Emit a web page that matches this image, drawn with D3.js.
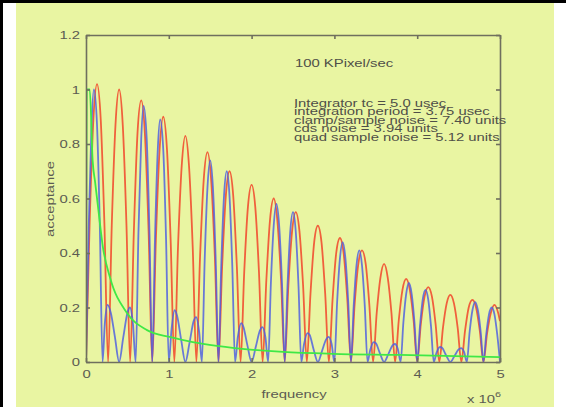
<!DOCTYPE html>
<html>
<head>
<meta charset="utf-8">
<script src="https://cdn.jsdelivr.net/npm/d3@7"></script>
<style>
  body { margin: 0; background: #fff; }
  svg { display: block; }
  text { font-family: "Liberation Sans", Arial, sans-serif; }
</style>
</head>
<body>
<div id="chart"></div>
<script>
// tick values
const xTicks = [0, 1, 2, 3, 4, 5];
const yTicks = [0, 0.2, 0.4, 0.6, 0.8, 1, 1.2];

// annotation text
const title = "100 KPixel/sec";
const notes = [
  "Integrator tc = 5.0 usec",
  "integration period = 3.75 usec",
  "clamp/sample noise = 7.40 units",
  "cds noise = 3.94 units",
  "quad sample noise = 5.12 units"
];

// clamp/sample acceptance (red), [frequency x1e6, acceptance]
const clampSample = [
  [0, 0], [0.044, 0.51], [0.089, 0.89], [0.133, 1.02], [0.178, 0.89], [0.222, 0.51],
  [0.267, 0], [0.311, 0.5], [0.356, 0.87], [0.4, 1.0], [0.444, 0.87], [0.489, 0.5],
  [0.533, 0], [0.578, 0.48], [0.622, 0.84], [0.667, 0.96], [0.711, 0.84], [0.756, 0.48],
  [0.8, 0], [0.844, 0.45], [0.889, 0.78], [0.933, 0.9], [0.978, 0.78], [1.022, 0.45],
  [1.067, 0], [1.111, 0.42], [1.156, 0.72], [1.2, 0.83], [1.244, 0.72], [1.289, 0.42],
  [1.333, 0], [1.378, 0.39], [1.422, 0.67], [1.467, 0.77], [1.511, 0.67], [1.556, 0.39],
  [1.6, 0], [1.644, 0.35], [1.689, 0.61], [1.733, 0.7], [1.778, 0.61], [1.822, 0.35],
  [1.867, 0], [1.911, 0.33], [1.956, 0.57], [2.0, 0.65], [2.044, 0.57], [2.089, 0.33],
  [2.133, 0], [2.178, 0.3], [2.222, 0.52], [2.267, 0.6], [2.311, 0.52], [2.356, 0.3],
  [2.4, 0], [2.444, 0.28], [2.489, 0.48], [2.533, 0.55], [2.578, 0.48], [2.622, 0.28],
  [2.667, 0], [2.711, 0.25], [2.756, 0.44], [2.8, 0.5], [2.844, 0.44], [2.889, 0.25],
  [2.933, 0], [2.978, 0.23], [3.022, 0.4], [3.067, 0.455], [3.111, 0.4], [3.156, 0.23],
  [3.2, 0], [3.244, 0.21], [3.289, 0.36], [3.333, 0.41], [3.378, 0.36], [3.422, 0.21],
  [3.467, 0], [3.511, 0.18], [3.556, 0.31], [3.6, 0.36], [3.644, 0.31], [3.689, 0.18],
  [3.733, 0], [3.778, 0.155], [3.822, 0.265], [3.867, 0.305], [3.911, 0.265], [3.956, 0.155],
  [4.0, 0], [4.044, 0.14], [4.089, 0.24], [4.133, 0.275], [4.178, 0.24], [4.222, 0.14],
  [4.267, 0], [4.311, 0.125], [4.356, 0.215], [4.4, 0.246], [4.444, 0.215], [4.489, 0.125],
  [4.533, 0], [4.578, 0.115], [4.622, 0.2], [4.667, 0.228], [4.711, 0.2], [4.756, 0.115],
  [4.8, 0], [4.844, 0.105], [4.889, 0.18], [4.933, 0.21], [4.978, 0.18], [5.0, 0.15]
];

// cds acceptance (blue)
const cds = [
  [0, 0], [0.033, 0.5], [0.067, 0.87], [0.095, 1.0], [0.133, 0.87], [0.167, 0.5],
  [0.2, 0], [0.227, 0.14], [0.26, 0.21], [0.3, 0.18], [0.35, 0.09],
  [0.4, 0], [0.45, 0.09], [0.5, 0.18], [0.53, 0.2], [0.567, 0.14],
  [0.6, 0], [0.633, 0.47], [0.667, 0.82], [0.695, 0.94], [0.733, 0.82], [0.767, 0.47],
  [0.8, 0], [0.833, 0.45], [0.867, 0.78], [0.895, 0.89], [0.933, 0.78], [0.967, 0.45],
  [1.0, 0], [1.033, 0.12], [1.07, 0.19], [1.1, 0.17], [1.15, 0.08],
  [1.2, 0], [1.25, 0.07], [1.3, 0.15], [1.33, 0.165], [1.367, 0.11],
  [1.4, 0], [1.433, 0.37], [1.467, 0.64], [1.5, 0.74], [1.533, 0.64], [1.567, 0.37],
  [1.6, 0], [1.633, 0.35], [1.667, 0.61], [1.7, 0.7], [1.733, 0.61], [1.767, 0.35],
  [1.8, 0], [1.833, 0.09], [1.875, 0.143], [1.9, 0.13], [1.95, 0.06],
  [2.0, 0], [2.05, 0.055], [2.1, 0.115], [2.13, 0.128], [2.167, 0.09],
  [2.2, 0], [2.233, 0.29], [2.267, 0.5], [2.3, 0.58], [2.333, 0.5], [2.367, 0.29],
  [2.4, 0], [2.433, 0.275], [2.467, 0.48], [2.5, 0.55], [2.533, 0.48], [2.567, 0.275],
  [2.6, 0], [2.633, 0.065], [2.675, 0.106], [2.7, 0.1], [2.75, 0.045],
  [2.8, 0], [2.85, 0.04], [2.9, 0.083], [2.93, 0.092], [2.967, 0.065],
  [3.0, 0], [3.033, 0.22], [3.067, 0.38], [3.1, 0.44], [3.133, 0.38], [3.167, 0.22],
  [3.2, 0], [3.233, 0.205], [3.267, 0.355], [3.3, 0.41], [3.333, 0.355], [3.367, 0.205],
  [3.4, 0], [3.433, 0.045], [3.475, 0.073], [3.5, 0.069], [3.55, 0.032],
  [3.6, 0], [3.65, 0.028], [3.7, 0.06], [3.73, 0.066], [3.767, 0.047],
  [3.8, 0], [3.833, 0.145], [3.867, 0.25], [3.9, 0.29], [3.933, 0.25], [3.967, 0.145],
  [4.0, 0], [4.033, 0.13], [4.067, 0.23], [4.1, 0.265], [4.133, 0.23], [4.167, 0.13],
  [4.2, 0], [4.233, 0.034], [4.275, 0.055], [4.3, 0.052], [4.35, 0.024],
  [4.4, 0], [4.45, 0.022], [4.5, 0.046], [4.53, 0.051], [4.567, 0.036],
  [4.6, 0], [4.633, 0.11], [4.667, 0.19], [4.7, 0.22], [4.733, 0.19], [4.767, 0.11],
  [4.8, 0], [4.833, 0.1], [4.867, 0.175], [4.9, 0.2], [4.933, 0.175], [4.967, 0.1], [5.0, 0]
];

// integrator response (green)
const integrator = [
  [0, 0], [0.01, 1.0], [0.045, 1.0], [0.08, 0.74], [0.11, 0.66], [0.145, 0.57],
  [0.205, 0.42], [0.29, 0.31], [0.495, 0.18], [0.737, 0.117], [1.01, 0.092],
  [1.29, 0.073], [1.58, 0.059], [2.38, 0.037], [2.98, 0.03], [3.79, 0.026], [5.0, 0.018]
];

const W = 566, H = 407;
const plot = { left: 86, right: 500, top: 35, bottom: 362 };
const axisColor = "#6f6f5e";
const textColor = "#5c5c52";
const stretch = "scale(1.35,1)";

const svg = d3.select("#chart").append("svg")
  .attr("width", W).attr("height", H);

// frame
svg.append("rect").attr("width", W).attr("height", H).attr("fill", "#fff");
svg.append("rect").attr("x", 16).attr("y", 3).attr("width", 538).attr("height", H - 3)
  .attr("fill", "#e9f5a2");
svg.append("rect").attr("x", 0).attr("y", 0).attr("width", W).attr("height", 3).attr("fill", "#000");
svg.append("rect").attr("x", 0).attr("y", 0).attr("width", 3).attr("height", H).attr("fill", "#000");

const x = d3.scaleLinear().domain([0, 5]).range([plot.left, plot.right]);
const y = d3.scaleLinear().domain([0, 1.2]).range([plot.bottom, plot.top]);

// curves
svg.append("clipPath").attr("id", "clip").append("rect")
  .attr("x", plot.left).attr("y", plot.top)
  .attr("width", plot.right - plot.left).attr("height", plot.bottom - plot.top);

const line = d3.line().x(d => x(d[0])).y(d => y(d[1])).curve(d3.curveMonotoneX);
const curves = svg.append("g").attr("clip-path", "url(#clip)").attr("fill", "none")
  .attr("stroke-width", 1.8).attr("stroke-linejoin", "round");

curves.append("path").datum(clampSample).attr("d", line).attr("stroke", "#f0603c");
curves.append("path").datum(cds).attr("d", line).attr("stroke", "#4c5ee2").attr("stroke-opacity", 0.82);
curves.append("path").datum(integrator).attr("d", line).attr("stroke", "#3fe846");

// axes (ticks point inward on all four sides)
function styleAxis(g) {
  g.selectAll("path, line").attr("stroke", axisColor).attr("stroke-width", 1.6);
  g.selectAll("text").attr("fill", textColor).style("font-size", "11px");
}

svg.append("g").attr("transform", `translate(0,${plot.bottom})`)
  .call(d3.axisBottom(x).tickValues(xTicks).tickSizeInner(-4).tickSizeOuter(0).tickFormat(d3.format("d")))
  .call(styleAxis)
  .call(g => g.selectAll("text").attr("y", null).attr("dy", null)
    .attr("transform", `translate(0,16) ${stretch}`));

svg.append("g").attr("transform", `translate(${plot.left},0)`)
  .call(d3.axisLeft(y).tickValues(yTicks).tickSizeInner(-4).tickSizeOuter(0).tickFormat(d => d3.format("~g")(d)))
  .call(styleAxis)
  .call(g => g.selectAll("text").attr("x", null).attr("dy", "0.35em")
    .attr("transform", `translate(-6,0) ${stretch}`));

svg.append("g").attr("transform", `translate(0,${plot.top})`)
  .call(d3.axisTop(x).tickValues(xTicks).tickSizeInner(-4).tickSizeOuter(0).tickFormat(""))
  .call(styleAxis);

svg.append("g").attr("transform", `translate(${plot.right},0)`)
  .call(d3.axisRight(y).tickValues(yTicks).tickSizeInner(-4).tickSizeOuter(0).tickFormat(""))
  .call(styleAxis);

// axis titles
const labels = svg.append("g").attr("fill", textColor).style("font-size", "11px");
labels.append("text").attr("transform", `translate(294,398) ${stretch}`)
  .attr("text-anchor", "middle").text("frequency");
labels.append("text").attr("transform", "translate(54,199) rotate(-90) scale(1.35,1)")
  .attr("text-anchor", "middle").text("acceptance");
const mult = labels.append("text").attr("transform", `translate(467,403) ${stretch}`);
mult.append("tspan").text("x 10");
mult.append("tspan").attr("dy", -6).style("font-size", "8px").text("6");

// annotations
const ann = svg.append("g").attr("fill", "#4f4f48").style("font-size", "11px");
ann.append("text").attr("transform", `translate(295,67) ${stretch}`).text(title);
notes.forEach((t, i) => {
  ann.append("text").attr("transform", `translate(294,${107 + i * 8.4}) ${stretch}`).text(t);
});
</script>
</body>
</html>
